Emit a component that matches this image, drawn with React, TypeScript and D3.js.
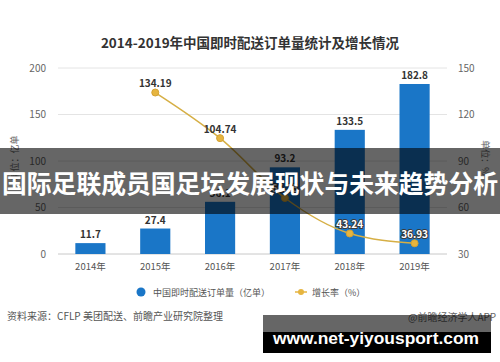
import React from "react";
import * as d3 from "d3";

const years = ["2014年", "2015年", "2016年", "2017年", "2018年", "2019年"];
const orders = [11.7, 27.4, 56.1, 93.2, 133.5, 182.8];
const growthYears = ["2015年", "2016年", "2017年", "2018年", "2019年"];
const growth = [134.19, 104.74, 66.13, 43.24, 36.93];
const leftTicks = [0, 50, 100, 150, 200];
const rightTicks = [30, 60, 90, 120, 150];

const W = 500;
const H = 362;
const CJK = "'Noto Sans CJK SC', 'Noto Sans', sans-serif";

export default function App() {
  const x = d3
    .scaleBand<string>()
    .domain(years)
    .range([58, 447])
    .paddingInner(0.535)
    .paddingOuter(0.2675);
  const yL = d3.scaleLinear().domain([0, 200]).range([254, 68]);
  const yR = d3.scaleLinear().domain([30, 150]).range([254, 68]);
  const cx = (c: string) => (x(c) as number) + x.bandwidth() / 2;

  const linePts: [number, number][] = growthYears.map((c, i) => [cx(c), yR(growth[i])]);
  const line = d3.line().curve(d3.curveMonotoneX)(linePts) || "";

  return (
    <svg
      width={W}
      height={H}
      style={{ position: "absolute", left: 0, top: 0, background: "#fff" }}
      fontFamily={CJK}
    >
      <rect x={0} y={0} width={W} height={H} fill="#fff" />
      <text x={250} y={48} textAnchor="middle" fontSize={13.5} fontWeight={700} fill="#333">
        2014-2019年中国即时配送订单量统计及增长情况
      </text>

      {/* grid */}
      {leftTicks.map((t) => (
        <line
          key={"g" + t}
          x1={58}
          x2={447}
          y1={yL(t)}
          y2={yL(t)}
          stroke={t === 0 ? "#c8c8c8" : "#e4e4e4"}
          strokeWidth={1}
        />
      ))}
      {leftTicks.map((t) => (
        <text key={"l" + t} x={46} y={yL(t) + 3.5} textAnchor="end" fontSize={10} fill="#666">
          {t}
        </text>
      ))}
      {rightTicks.map((t) => (
        <text key={"r" + t} x={458} y={yR(t) + 3.5} textAnchor="start" fontSize={10} fill="#666">
          {t}
        </text>
      ))}
      <text transform="translate(18,158) rotate(-90)" textAnchor="middle" fontSize={9} fill="#666">
        单位：亿单
      </text>
      <text transform="translate(482,158) rotate(90)" textAnchor="middle" fontSize={9} fill="#666">
        单位：%
      </text>

      {/* bars */}
      {years.map((c, i) => (
        <rect
          key={"b" + c}
          x={x(c)}
          y={yL(orders[i])}
          width={x.bandwidth()}
          height={yL(0) - yL(orders[i])}
          fill="#1a76c7"
        />
      ))}
      {years.map((c, i) => (
        <text
          key={"bl" + c}
          x={cx(c)}
          y={yL(orders[i]) - 5}
          textAnchor="middle"
          fontSize={10}
          fontWeight={700}
          fill="#333"
        >
          {orders[i]}
        </text>
      ))}
      {years.map((c) => (
        <text key={"x" + c} x={cx(c)} y={269.5} textAnchor="middle" fontSize={9.5} fill="#555">
          {c}
        </text>
      ))}

      {/* line */}
      <path d={line} fill="none" stroke="#d6af45" strokeWidth={1.5} />
      {growthYears.map((c, i) => (
        <circle
          key={"p" + c}
          cx={cx(c)}
          cy={yR(growth[i])}
          r={3.5}
          fill="#e6b540"
          stroke="#d4a232"
          strokeWidth={1}
        />
      ))}
      {growthYears.map((c, i) => {
        const idx = years.indexOf(c);
        const inside = yR(growth[i]) > yL(orders[idx]);
        return (
          <text
            key={"pl" + c}
            x={cx(c)}
            y={yR(growth[i]) - 5.5}
            textAnchor="middle"
            fontSize={10}
            fontWeight={700}
            fill={inside ? "#fff" : "#333"}
            stroke={inside ? "#3a3a3a" : "none"}
            strokeWidth={inside ? 2 : 0}
            style={{ paintOrder: "stroke" }}
          >
            {growth[i]}
          </text>
        );
      })}

      {/* legend */}
      <circle cx={141} cy={292} r={4.5} fill="#1a76c7" />
      <text x={153} y={295.5} fontSize={9} fill="#555">
        中国即时配送订单量（亿单）
      </text>
      <line x1={295} x2={307} y1={292} y2={292} stroke="#e6b540" strokeWidth={1.5} />
      <circle cx={301} cy={292} r={3} fill="#e6b540" />
      <text x={312} y={295.5} fontSize={9} fill="#555">
        增长率（%）
      </text>

      {/* source */}
      <text x={7} y={320} fontSize={10} fill="#555">
        资料来源：CFLP 美团配送、前瞻产业研究院整理
      </text>
      <text x={408} y={320.5} fontSize={10} fill="#666">
        @前瞻经济学人APP
      </text>

      {/* overlays */}
      <rect x={0} y={148} width={W} height={66} fill="rgba(0,0,0,0.6)" />
      <text
        x={250}
        y={193}
        textAnchor="middle"
        fontSize={25}
        fontWeight={700}
        fill="#fff"
        textLength={496}
        lengthAdjust="spacingAndGlyphs"
      >
        国际足联成员国足坛发展现状与未来趋势分析
      </text>
      <rect x={263} y={315} width={228} height={17} fill="rgba(0,0,0,0.6)" />
      <rect x={263} y={332} width={228} height={21} fill="#000" />
      <text
        x={273}
        y={344}
        fontFamily="'Liberation Sans', Arial, sans-serif"
        fontSize={17}
        fontWeight={700}
        fill="#fff"
        textLength={206}
        lengthAdjust="spacingAndGlyphs"
      >
        www.net-yiyousport.com
      </text>
    </svg>
  );
}
